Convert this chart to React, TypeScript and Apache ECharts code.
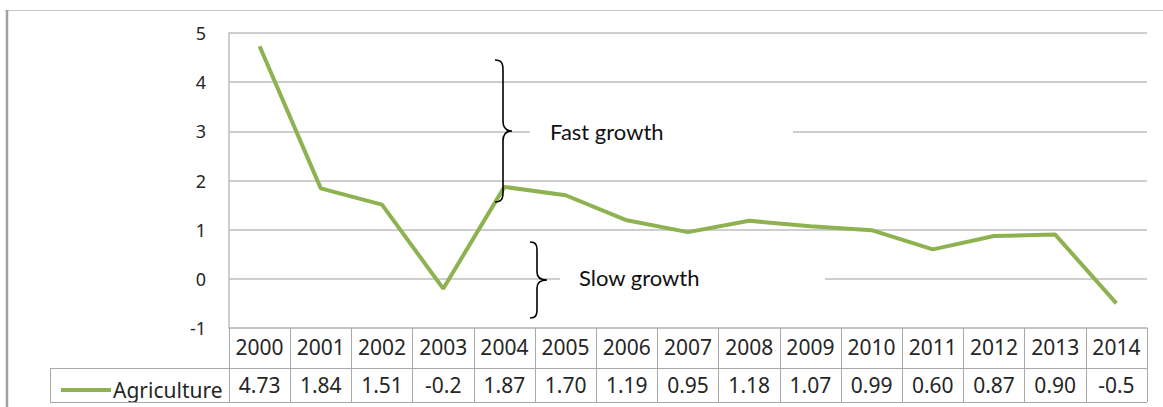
import React, { useEffect, useRef } from "react";
import * as echarts from "echarts";

const years = ["2000","2001","2002","2003","2004","2005","2006","2007","2008","2009","2010","2011","2012","2013","2014"];
const agriculture = [4.73, 1.84, 1.51, -0.2, 1.87, 1.70, 1.19, 0.95, 1.18, 1.07, 0.99, 0.60, 0.87, 0.90, -0.5];
const tableLabels = ["4.73","1.84","1.51","-0.2","1.87","1.70","1.19","0.95","1.18","1.07","0.99","0.60","0.87","0.90","-0.5"];
const yMin = -1;
const yMax = 5;
const yInterval = 1;
const seriesName = "Agriculture";

function bracePath(w: number, h: number, a: number, r: number): string {
  const m = h / 2;
  return [
    `M0,0`,
    `C${a * 0.8},0 ${a},${r * 0.3} ${a},${r}`,
    `L${a},${m - r}`,
    `C${a},${m - r * 0.3} ${a + (w - a) * 0.3},${m} ${w},${m}`,
    `C${a + (w - a) * 0.3},${m} ${a},${m + r * 0.3} ${a},${m + r}`,
    `L${a},${h - r}`,
    `C${a},${h - r * 0.3} ${a * 0.8},${h} 0,${h}`,
  ].join(" ");
}

echarts.graphic.registerShape("braceFast", echarts.graphic.extendPath(bracePath(17, 142, 8, 10), {}) as any);
echarts.graphic.registerShape("braceSlow", echarts.graphic.extendPath(bracePath(17, 76, 7, 8), {}) as any);

const GREEN = "#8DB24F";
const GRID = "#BEBEBE";
const TABLE = "#A9A9A9";
const TEXT = "#262626";
const FONT = "'Noto Sans', sans-serif";

export default function App() {
  const ref = useRef<HTMLDivElement>(null);
  useEffect(() => {
    if (!ref.current) return;
    const chart = echarts.init(ref.current, undefined, { renderer: "svg" });
    chart.setOption({
      animation: false,
      backgroundColor: "#ffffff",
      grid: { left: 229, right: 16, top: 33, bottom: 79, containLabel: false },
      legend: {
        show: true,
        left: 56,
        top: 373,
        icon: "rect",
        itemWidth: 50,
        itemHeight: 4,
        data: [{ name: seriesName, itemStyle: { color: GREEN } }],
        textStyle: { fontFamily: FONT, fontSize: 21, color: TEXT, lineHeight: 24, padding: [0, 0, 0, -3] },
      },
      xAxis: [
        {
          type: "category",
          data: years,
          position: "bottom",
          boundaryGap: true,
          axisLine: { show: true, onZero: false, lineStyle: { color: GRID, width: 1.5 } },
          axisTick: { show: true, interval: 0, length: 74, lineStyle: { color: TABLE, width: 1 } },
          axisLabel: { interval: 0, fontFamily: FONT, fontSize: 21, color: TEXT, margin: 8 },
          splitLine: { show: false },
        },
        {
          type: "category",
          data: years,
          position: "bottom",
          offset: 40,
          boundaryGap: true,
          axisLine: { show: true, onZero: false, lineStyle: { color: TABLE, width: 1 } },
          axisTick: { show: false },
          axisLabel: {
            interval: 0,
            fontFamily: FONT,
            fontSize: 21,
            color: TEXT,
            margin: 6,
            formatter: (_v: string, i: number) => tableLabels[i],
          },
        },
      ],
      yAxis: {
        type: "value",
        min: yMin,
        max: yMax,
        interval: yInterval,
        axisLine: { show: true, onZero: false, lineStyle: { color: GRID, width: 1.5 } },
        axisTick: { show: false },
        axisLabel: { fontFamily: FONT, fontSize: 18, color: TEXT, margin: 23 },
        splitLine: { show: true, lineStyle: { color: GRID, width: 1.5 } },
      },
      series: [
        {
          name: seriesName,
          type: "line",
          data: agriculture,
          xAxisIndex: 0,
          showSymbol: false,
          symbol: "none",
          lineStyle: { color: GREEN, width: 4 },
          itemStyle: { color: GREEN },
          z: 5,
        },
      ],
      graphic: [
        { type: "line", z: 20, shape: { x1: 5, y1: 10.5, x2: 1163, y2: 10.5 }, style: { stroke: "#C4C4C4", lineWidth: 1 } },
        { type: "line", z: 20, shape: { x1: 7, y1: 10, x2: 7, y2: 407 }, style: { stroke: "#A0A0A0", lineWidth: 2.5 } },
        { type: "line", z: 20, shape: { x1: 50, y1: 402.5, x2: 1147, y2: 402.5 }, style: { stroke: TABLE, lineWidth: 1 } },
        { type: "line", z: 20, shape: { x1: 50, y1: 368.5, x2: 229, y2: 368.5 }, style: { stroke: TABLE, lineWidth: 1 } },
        { type: "line", z: 20, shape: { x1: 50.5, y1: 368, x2: 50.5, y2: 402 }, style: { stroke: TABLE, lineWidth: 1 } },
        { type: "rect", z: 20, shape: { x: 530, y: 122, width: 263, height: 20 }, style: { fill: "#ffffff" } },
        { type: "rect", z: 20, shape: { x: 560, y: 270, width: 265, height: 20 }, style: { fill: "#ffffff" } },
        {
          type: "text", z: 21, x: 550, y: 131,
          style: { text: "Fast growth", fontFamily: "Lato, sans-serif", fontSize: 22, fill: "#111", verticalAlign: "middle", align: "left" },
        },
        {
          type: "text", z: 21, x: 579, y: 277,
          style: { text: "Slow growth", fontFamily: "Lato, sans-serif", fontSize: 22, fill: "#111", verticalAlign: "middle", align: "left" },
        },
        { type: "braceFast", z: 21, x: 495, y: 60, style: { stroke: "#000", fill: "none", lineWidth: 1.6 } },
        { type: "braceSlow", z: 21, x: 530, y: 242, style: { stroke: "#000", fill: "none", lineWidth: 1.6 } },
      ],
    });
    return () => chart.dispose();
  }, []);
  return <div ref={ref} style={{ position: "fixed", left: 0, top: 0, width: 1163, height: 407 }} />;
}
